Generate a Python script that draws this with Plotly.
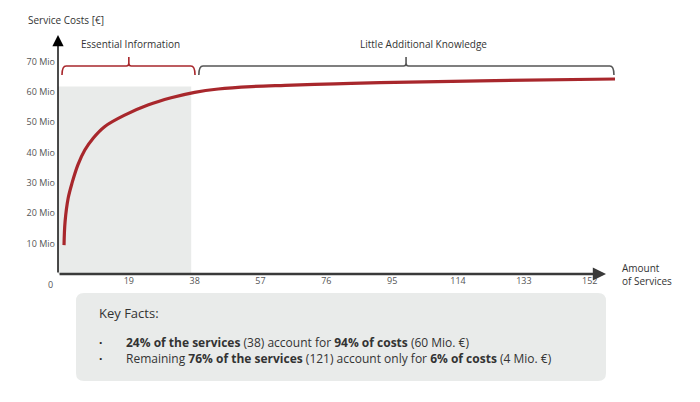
import plotly.graph_objects as go

# Cumulative service costs (Mio €) over the number of services, sorted by cost
services = [0.3, 0.6, 1.5, 2.6, 4.3, 6.3, 8.7, 12.0, 17.8, 24.5, 31.2, 38.0, 44.8, 54.4, 64.1, 78.5, 91.5, 120.3, 159.3]
costs = [9.5, 17.2, 25.0, 29.9, 35.9, 40.8, 44.7, 48.5, 52.3, 55.6, 58.0, 59.8, 60.9, 61.7, 62.1, 62.6, 63.0, 63.6, 64.2]

x_ticks = [19, 38, 57, 76, 95, 114, 133, 152]
y_ticks = [10, 20, 30, 40, 50, 60, 70]
y_tick_labels = [str(v) + ' Mio' for v in y_ticks]

essential_end = 37       # last service of the "essential" group
essential_cost = 61.7    # height of the shaded block

key_facts = [
    '<b>24% of the services</b> (38) account for <b>94% of costs</b> (60 Mio. €)',
    'Remaining <b>76% of the services</b> (121) account only for <b>6% of costs</b> (4 Mio. €)',
]

RED = '#a8272c'
GREY = '#555555'
FONT = 'Open Sans'

X_MIN, X_MAX = -1.44, 169.4


def brace_path(x0, x1, xm, y_end, y_line, y_top, dx=1.2, dy=0.9):
    """SVG path of a horizontal curly brace with a notch at xm"""
    return (f'M {x0},{y_end} Q {x0},{y_line} {x0 + dx},{y_line} '
            f'L {xm - dx * 0.6},{y_line} Q {xm},{y_line} {xm},{y_line + dy} '
            f'L {xm},{y_top} M {xm},{y_line + dy} Q {xm},{y_line} {xm + dx * 0.6},{y_line} '
            f'L {x1 - dx},{y_line} Q {x1},{y_line} {x1},{y_end}')


def rounded_box(x0, y0, x1, y1, rx, ry):
    return (f'M {x0 + rx},{y1} L {x1 - rx},{y1} Q {x1},{y1} {x1},{y1 - ry} '
            f'L {x1},{y0 + ry} Q {x1},{y0} {x1 - rx},{y0} L {x0 + rx},{y0} '
            f'Q {x0},{y0} {x0},{y0 + ry} L {x0},{y1 - ry} Q {x0},{y1} {x0 + rx},{y1} Z')


figure = go.Figure(
    data=[go.Scatter(
        x=services,
        y=costs,
        mode='lines',
        line=dict(color=RED, width=3.2, shape='spline', smoothing=1.0),
        hoverinfo='skip'
    )]
)

# Shaded "essential" area
figure.add_shape(type='rect', x0=X_MIN, x1=essential_end, y0=0, y1=essential_cost,
                 fillcolor='#e9ebea', line_width=0, layer='below')

# Braces over the two groups
figure.add_shape(type='path', path=brace_path(-0.29, 38.1, 19.0, 65.5, 68.5, 71.4),
                 line=dict(color=RED, width=1.6))
figure.add_shape(type='path', path=brace_path(39.2, 159.0, 99.0, 65.5, 68.5, 71.4),
                 line=dict(color=GREY, width=1.6))

# Key facts box
figure.add_shape(type='path', xref='paper', yref='paper',
                 path=rounded_box(0.0304, -0.44, 0.9257, -0.078, 0.0135, 0.033),
                 fillcolor='#e9ebea', line_width=0)

annotations = [
    # axis arrows
    dict(x=0, y=0.9835, xref='paper', yref='paper', ax=0, ay=239, text='',
         showarrow=True, arrowhead=2, arrowsize=1.6, arrowwidth=1.4, arrowcolor='black'),
    dict(x=0.9257, y=0, xref='paper', yref='paper', ax=-548, ay=0, text='',
         showarrow=True, arrowhead=2, arrowsize=1.1, arrowwidth=2.4, arrowcolor='#3a3a3a'),
    # axis titles
    dict(x=-0.054, y=1.045, xref='paper', yref='paper', text='Service Costs [€]',
         xanchor='left', yanchor='middle', showarrow=False, font=dict(size=10, color='#333')),
    dict(x=0.949, y=0, xref='paper', yref='paper', text='Amount<br>of Services',
         xanchor='left', yanchor='middle', align='left', showarrow=False,
         font=dict(size=10, color='#333')),
    dict(x=0, y=0, xref='paper', yref='paper', text='0', xanchor='right', yanchor='top',
         xshift=-3, yshift=-2, showarrow=False, font=dict(size=9, color=GREY)),
    # brace labels
    dict(x=19.6, y=75.7, text='Essential Information', showarrow=False,
         font=dict(size=10, color='#333')),
    dict(x=103.9, y=75.7, text='Little Additional Knowledge', showarrow=False,
         font=dict(size=10, color='#333')),
    # key facts
    dict(x=0.0659, y=-0.1605, xref='paper', yref='paper', text='Key Facts:',
         xanchor='left', yanchor='middle', showarrow=False, font=dict(size=13, color='#333')),
    dict(x=0.071, y=-0.315, xref='paper', yref='paper', text='<br>'.join('<b>·</b>' for _ in key_facts),
         xanchor='center', yanchor='middle', showarrow=False, font=dict(size=12, color='#222')),
    dict(x=0.1115, y=-0.315, xref='paper', yref='paper', text='<br>'.join(key_facts),
         xanchor='left', yanchor='middle', align='left', showarrow=False,
         font=dict(size=12, color='#333')),
]

# the page body has an 8px margin, so the figure is 8px smaller than the window
figure.update_layout(
    width=692, height=394,
    margin=dict(l=50, r=50, t=23, b=128),
    paper_bgcolor='white', plot_bgcolor='white',
    font=dict(family=FONT, color=GREY),
    showlegend=False,
    annotations=annotations,
    xaxis=dict(range=[X_MIN, X_MAX], showgrid=False, zeroline=False, showline=False,
               tickvals=x_ticks, ticks='', tickfont=dict(size=9, color=GREY)),
    yaxis=dict(range=[0, 80], showgrid=False, zeroline=False, showline=False,
               tickvals=y_ticks, ticktext=y_tick_labels, ticks='',
               ticklabelstandoff=2, tickfont=dict(size=9, color=GREY)),
)

figure.write_html('out.html', config={'displayModeBar': False})
